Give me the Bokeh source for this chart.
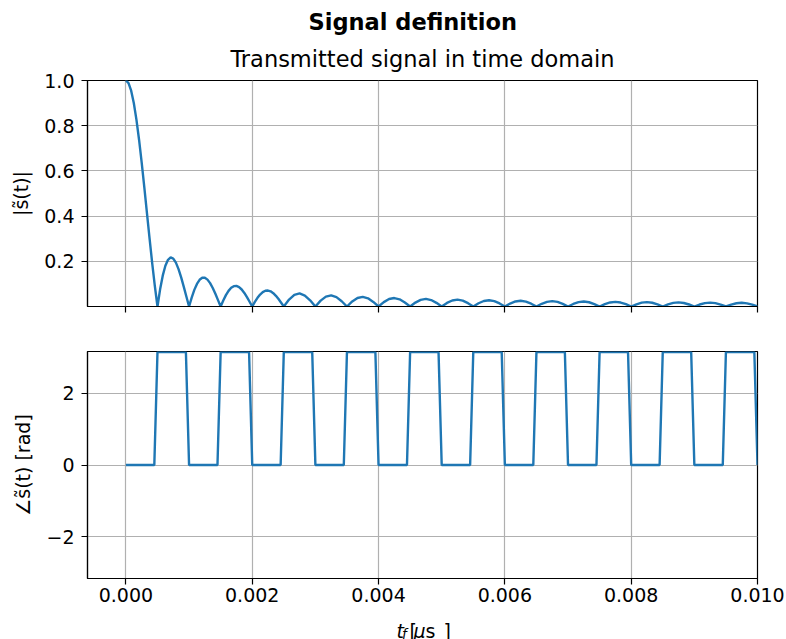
from bokeh.plotting import figure
from bokeh.layouts import column
from bokeh.models import Range1d, FixedTicker, Label, Title
from bokeh.embed import file_html
from bokeh.resources import INLINE

FONT = "DejaVu Sans"
BLUE = "#1f77b4"
GRID = "#b0b0b0"

# |s(t)|.
# first 5 lobes: 12 samples per lobe (step 0.0005/12), then 6 per lobe (step 0.0005/6)
magnitude_fine = [
    1.0, 0.9886, 0.9549, 0.9003, 0.8270, 0.7379, 0.6366, 0.5271, 0.4135, 0.3001, 0.1910, 0.0899, 0.0,
    0.0760, 0.1364, 0.1801, 0.2067, 0.2170, 0.2122, 0.1942, 0.1654, 0.1286, 0.0868, 0.0430, 0.0,
    0.0395, 0.0735, 0.1000, 0.1181, 0.1272, 0.1273, 0.1190, 0.1034, 0.0818, 0.0562, 0.0282, 0.0,
    0.0267, 0.0503, 0.0693, 0.0827, 0.0900, 0.0909, 0.0858, 0.0752, 0.0600, 0.0415, 0.0210, 0.0,
    0.0202, 0.0382, 0.0530, 0.0636, 0.0696, 0.0707, 0.0671, 0.0591, 0.0474, 0.0329, 0.0168, 0.0,
]
magnitude_coarse = [
    0.0308, 0.0517, 0.0579, 0.0486, 0.0273, 0.0,
    0.0258, 0.0435, 0.0490, 0.0413, 0.0233, 0.0,
    0.0222, 0.0376, 0.0424, 0.0360, 0.0203, 0.0,
    0.0195, 0.0331, 0.0374, 0.0318, 0.0180, 0.0,
    0.0174, 0.0295, 0.0335, 0.0285, 0.0162, 0.0,
    0.0157, 0.0267, 0.0303, 0.0258, 0.0147, 0.0,
    0.0143, 0.0243, 0.0277, 0.0236, 0.0134, 0.0,
    0.0131, 0.0224, 0.0255, 0.0218, 0.0124, 0.0,
    0.0121, 0.0207, 0.0236, 0.0202, 0.0115, 0.0,
    0.0112, 0.0192, 0.0220, 0.0188, 0.0107, 0.0,
    0.0105, 0.0180, 0.0205, 0.0176, 0.0101, 0.0,
    0.0098, 0.0169, 0.0193, 0.0165, 0.0095, 0.0,
    0.0093, 0.0159, 0.0182, 0.0156, 0.0089, 0.0,
    0.0088, 0.0150, 0.0172, 0.0148, 0.0085, 0.0,
    0.0083, 0.0143, 0.0163, 0.0140, 0.0080, 0.0,
]
fine_step = 0.0005 / 12
coarse_step = 0.0005 / 6
fine_t = [k * fine_step for k in range(len(magnitude_fine))]
coarse_t = [fine_t[-1] + (k + 1) * coarse_step for k in range(len(magnitude_coarse))]
magnitude_t = fine_t + coarse_t
magnitude = magnitude_fine + magnitude_coarse

# phase corner points (rad)
P = 3.1416
phase_t = [0.0, 0.00045, 0.0005, 0.00095, 0.001, 0.00145, 0.0015, 0.00195, 0.002,
           0.00245, 0.0025, 0.00295, 0.003, 0.00345, 0.0035, 0.00395, 0.004,
           0.00445, 0.0045, 0.00495, 0.005, 0.00545, 0.0055, 0.00595, 0.006,
           0.00645, 0.0065, 0.00695, 0.007, 0.00745, 0.0075, 0.00795, 0.008,
           0.00845, 0.0085, 0.00895, 0.009, 0.00945, 0.0095, 0.00995, 0.01]
phase_rad = [0, 0, P, P, 0, 0, P, P, 0, 0, P, P, 0, 0, P, P, 0, 0, P, P, 0,
             0, P, P, 0, 0, P, P, 0, 0, P, P, 0, 0, P, P, 0, 0, P, P, 0]

x_ticks = [0.0, 0.002, 0.004, 0.006, 0.008, 0.010]
x_tick_labels = ["0.000", "0.002", "0.004", "0.006", "0.008", "0.010"]
mag_ticks = [0.2, 0.4, 0.6, 0.8, 1.0]
mag_tick_labels = ["0.2", "0.4", "0.6", "0.8", "1.0"]
phase_ticks = [-2, 0, 2]
phase_tick_labels = ["\u22122", "0", "2"]

x_range = Range1d(-0.000608, 0.01)
TICK_FS = "19px"


def style(p, yticks, ylabels, show_x_labels):
    p.outline_line_color = "black"
    p.outline_line_width = 1.2
    p.background_fill_color = "white"
    p.border_fill_color = "white"
    p.xaxis.ticker = FixedTicker(ticks=x_ticks)
    if show_x_labels:
        p.xaxis.major_label_overrides = {t: l for t, l in zip(x_ticks, x_tick_labels)}
    else:
        p.xaxis.major_label_overrides = {t: "" for t in x_ticks}
    p.yaxis.ticker = FixedTicker(ticks=yticks)
    p.yaxis.major_label_overrides = {t: l for t, l in zip(yticks, ylabels)}
    for ax in (p.xaxis[0], p.yaxis[0]):
        ax.axis_line_color = "black"
        ax.axis_line_width = 1.2
        ax.major_tick_line_color = "black"
        ax.major_tick_line_width = 1.2
        ax.major_tick_out = 6
        ax.major_tick_in = 0
        ax.minor_tick_out = 0
        ax.minor_tick_in = 0
        ax.major_label_text_font = FONT
        ax.major_label_text_font_size = TICK_FS
        ax.major_label_text_color = "black"
        ax.major_label_standoff = 7
        ax.axis_label_text_font = FONT
        ax.axis_label_text_font_size = TICK_FS
        ax.axis_label_text_font_style = "normal"
        ax.axis_label_text_color = "black"
        ax.axis_label_standoff = 9
    p.xaxis.major_label_standoff = 3
    p.xgrid.ticker = FixedTicker(ticks=x_ticks)
    p.ygrid.ticker = FixedTicker(ticks=yticks)
    for g in (p.xgrid[0], p.ygrid[0]):
        g.grid_line_color = GRID
        g.grid_line_width = 1.2


p1 = figure(width=786, height=320, x_range=x_range, y_range=Range1d(0.0, 1.0),
            output_backend="svg", toolbar_location=None, title=None,
            min_border_left=87, min_border_right=29, min_border_top=80, min_border_bottom=14)
p1.add_layout(Title(text="Transmitted signal in time domain", align="center",
                    text_font=FONT, text_font_size="22.5px", text_font_style="normal",
                    text_color="black", standoff=18), "above")
p1.add_layout(Title(text="Signal definition", align="left", offset=221,
                    text_font=FONT, text_font_size="22.5px", text_font_style="bold",
                    text_color="black", standoff=0), "above")
style(p1, mag_ticks, mag_tick_labels, False)
p1.xaxis.major_label_text_font_size = "1px"
p1.yaxis.axis_label = "|s\u0303(t)|"
p1.line(magnitude_t, magnitude, line_color=BLUE, line_width=2.4)

p2 = figure(width=786, height=289, x_range=x_range, y_range=Range1d(-3.155, 3.155),
            output_backend="svg", toolbar_location=None,
            min_border_left=87, min_border_right=29, min_border_top=31, min_border_bottom=31)
style(p2, phase_ticks, phase_tick_labels, True)
p2.yaxis.axis_label = "\u2220s\u0303(t) [rad]"
p2.line(phase_t, phase_rad, line_color=BLUE, line_width=2.4)

# strip below holding the x-axis label "t_f [μs]" built from text pieces.
# Its frame is aligned with the plots above (x 87..757, y 609..639 on the page),
# so the ranges map one unit to one page pixel.
p3 = figure(width=786, height=30, x_range=Range1d(87, 757), y_range=Range1d(639, 609),
            x_axis_type=None, y_axis_type=None,
            output_backend="svg", toolbar_location=None,
            min_border_left=0, min_border_right=0, min_border_top=0, min_border_bottom=0)
p3.grid.visible = False
p3.outline_line_color = None
p3.background_fill_color = "white"
p3.border_fill_color = "white"


def lab(x, y, text, size, style_="normal"):
    p3.add_layout(Label(x=x, y=y, text=text,
                        text_font=FONT, text_font_size=size, text_font_style=style_,
                        text_color="black", text_baseline="alphabetic", text_align="left"))


lab(396, 630, "t", "19px", "italic")
lab(401.5, 633, "f", "13.5px", "italic")
lab(409, 630, "[", "19px")
lab(413, 630, "\u03bc", "19px", "italic")
lab(425, 630, "s", "19px")
lab(443, 630, "]", "19px")

layout = column(p1, p2, p3, spacing=0)
open("out.html", "w").write(file_html(layout, INLINE))
